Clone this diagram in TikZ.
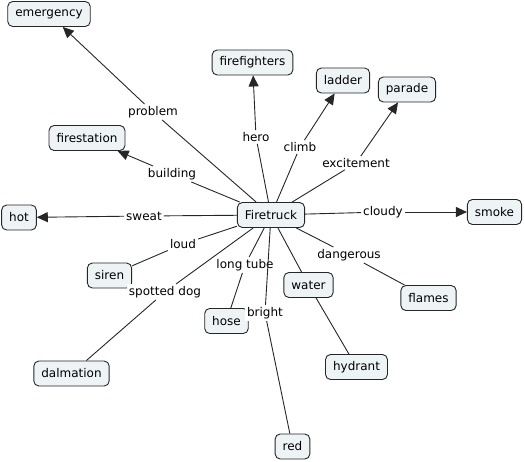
\documentclass[tikz,border=0pt]{standalone}
\usepackage{fontspec}
\setmainfont{DejaVu Sans}
\usetikzlibrary{arrows.meta}
\definecolor{cfill}{HTML}{EEF4F6}
\tikzset{
  concept/.style={draw=black!85, fill=cfill, rounded corners=5pt, line width=0.9pt,
    minimum height=25pt, inner xsep=7.5pt, inner ysep=2pt, font=\fontsize{12}{14}\selectfont},
  lphrase/.style={inner sep=2pt, font=\fontsize{12}{14}\selectfont, fill=white},
  conn/.style={draw=black!85, line width=0.9pt},
  arr/.style={conn, -{Triangle[length=11pt,width=10pt]}},
}
\begin{document}
\begin{tikzpicture}[x=1pt,y=-1pt]
\useasboundingbox (0,0) rectangle (525,461);
% concepts
\node[concept] (ft) at (271,215) {Firetruck};
\node[concept] (em) at (49,14) {emergency};
\node[concept] (ff) at (252.5,62.5) {firefighters};
\node[concept] (la) at (343,80.5) {ladder};
\node[concept] (pa) at (407,89.5) {parade};
\node[concept] (fs) at (87,138) {firestation};
\node[concept] (ho) at (19,217.5) {hot};
\node[concept] (sm) at (494.5,212) {smoke};
\node[concept] (si) at (109.5,275.5) {siren};
\node[concept] (wa) at (308.5,285) {water};
\node[concept] (fl) at (428.5,298) {flames};
\node[concept] (hs) at (226.5,321) {hose};
\node[concept] (da) at (71.5,373.5) {dalmation};
\node[concept] (hy) at (356.5,367) {hydrant};
\node[concept] (re) at (292.5,446.5) {red};
% linking phrases
\node[lphrase] (lproblem) at (153,112) {problem};
\node[lphrase] (lhero) at (256,137) {hero};
\node[lphrase] (lclimb) at (300,147) {climb};
\node[lphrase] (lexc) at (356,163) {excitement};
\node[lphrase] (lbuild) at (172,174) {building};
\node[lphrase] (lsweat) at (144,216) {sweat};
\node[lphrase] (lcloudy) at (383,212) {cloudy};
\node[lphrase] (lloud) at (183,244) {loud};
\node[lphrase] (ldang) at (349,255) {dangerous};
\node[lphrase] (ltube) at (245,265) {long tube};
\node[lphrase] (lspot) at (165,292) {spotted dog};
\node[lphrase] (lbright) at (265,313) {bright};
% connectors
\draw[conn] (ft) -- (lproblem); \draw[arr] (lproblem) -- (em);
\draw[conn] (ft) -- (lhero); \draw[arr] (lhero) -- (ff);
\draw[conn] (ft) -- (lclimb); \draw[arr] (lclimb) -- (la);
\draw[conn] (ft) -- (lexc); \draw[arr] (lexc) -- (pa);
\draw[conn] (ft) -- (lbuild); \draw[arr] (lbuild) -- (fs);
\draw[conn] (ft) -- (lsweat); \draw[arr] (lsweat) -- (ho);
\draw[conn] (ft) -- (lcloudy); \draw[arr] (lcloudy) -- (sm);
\draw[conn] (ft) -- (lloud) -- (si);
\draw[conn] (ft) -- (ldang) -- (fl);
\draw[conn] (ft) -- (ltube) -- (hs);
\draw[conn] (ft) -- (lspot) -- (da);
\draw[conn] (ft) -- (lbright) -- (re);
\draw[conn] (ft) -- (wa);
\draw[conn] (wa) -- (hy);
\end{tikzpicture}
\end{document}
